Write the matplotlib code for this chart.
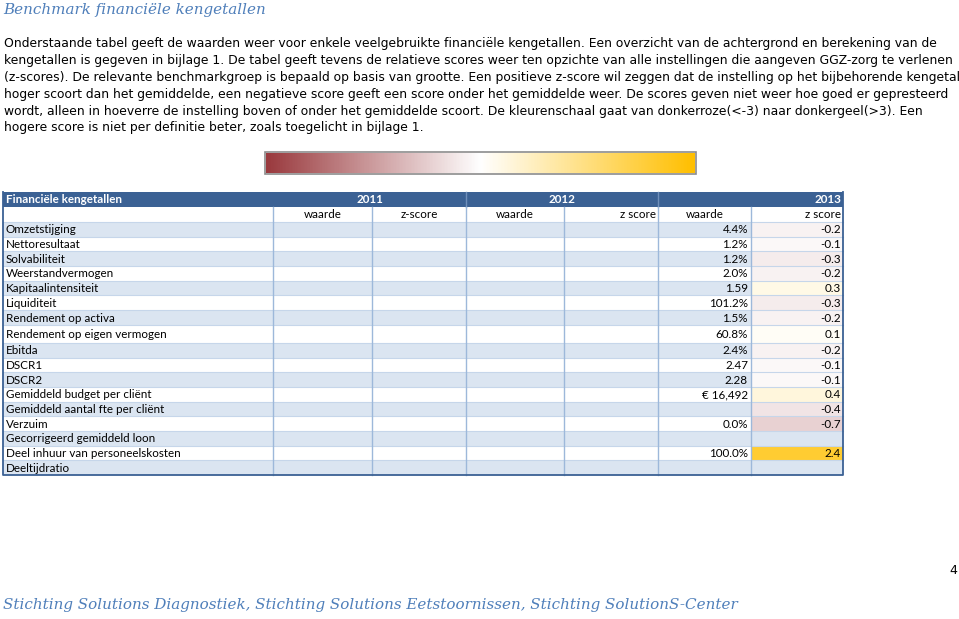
import matplotlib
matplotlib.use("Agg")
import matplotlib.pyplot as plt
import numpy as np
from matplotlib.patches import Rectangle
from matplotlib.colors import LinearSegmentedColormap, Normalize

title = "Benchmark financiële kengetallen"
intro_lines = [
    "Onderstaande tabel geeft de waarden weer voor enkele veelgebruikte financiële kengetallen. Een overzicht van de achtergrond en berekening van de",
    "kengetallen is gegeven in bijlage 1. De tabel geeft tevens de relatieve scores weer ten opzichte van alle instellingen die aangeven GGZ-zorg te verlenen",
    "(z-scores). De relevante benchmarkgroep is bepaald op basis van grootte. Een positieve z-score wil zeggen dat de instelling op het bijbehorende kengetal",
    "hoger scoort dan het gemiddelde, een negatieve score geeft een score onder het gemiddelde weer. De scores geven niet weer hoe goed er gepresteerd",
    "wordt, alleen in hoeverre de instelling boven of onder het gemiddelde scoort. De kleurenschaal gaat van donkerroze(<-3) naar donkergeel(>3). Een",
    "hogere score is niet per definitie beter, zoals toegelicht in bijlage 1.",
]
footer = "Stichting Solutions Diagnostiek, Stichting Solutions Eetstoornissen, Stichting SolutionS-Center"
page_no = "4"

years = ["2011", "2012", "2013"]
sub_headers = ["waarde", "z-score", "waarde", "z score", "waarde", "z score"]
labels = [
    "Omzetstijging", "Nettoresultaat", "Solvabiliteit", "Weerstandvermogen",
    "Kapitaalintensiteit", "Liquiditeit", "Rendement op activa",
    "Rendement op eigen vermogen", "Ebitda", "DSCR1", "DSCR2",
    "Gemiddeld budget per cliënt", "Gemiddeld aantal fte per cliënt", "Verzuim",
    "Gecorrigeerd gemiddeld loon", "Deel inhuur van personeelskosten", "Deeltijdratio",
]
waarde_2013 = ["4.4%", "1.2%", "1.2%", "2.0%", "1.59", "101.2%", "1.5%", "60.8%",
               "2.4%", "2.47", "2.28", "€ 16,492", "", "0.0%", "", "100.0%", ""]
z_2013 = [-0.2, -0.1, -0.3, -0.2, 0.3, -0.3, -0.2, 0.1,
          -0.2, -0.1, -0.1, 0.4, -0.4, -0.7, None, 2.4, None]

# colour scale: dark rose (<-3) -> white -> dark yellow (>3)
cmap = LinearSegmentedColormap.from_list("zscore", ["#9a3a3e", "#ffffff", "#ffbf00"])
norm = Normalize(-3, 3)

fig = plt.figure(figsize=(9.59, 6.19), dpi=100)
ax = fig.add_axes([0, 0, 1, 1])
ax.set_xlim(0, 959)
ax.set_ylim(619, 0)
ax.axis("off")

ax.text(3, 10, title, fontsize=10.9, family="DejaVu Serif", style="italic",
        color="#4f7fba", va="center", ha="left")

body_y0, body_dy = 44, 16.8
for i, line in enumerate(intro_lines):
    ax.text(4, body_y0 + i * body_dy, line, fontsize=8.88, family="DejaVu Sans",
            color="black", va="center", ha="left")

# gradient bar
grad = np.linspace(-3, 3, 400).reshape(1, -1)
ax.imshow(grad, cmap=cmap, norm=norm, extent=(266, 695, 173, 153), aspect="auto")
ax.add_patch(Rectangle((265, 152), 431, 22, fill=False, ec="#8c8c8c", lw=1.2))

# table
col_x = [3, 273, 372, 466, 564, 658, 751, 843]
head_top, head_h, sub_h = 192, 15, 15
row_h = [14.7] * len(labels)
row_h[7] = 18
dark = "#3b6194"
light = "#dbe5f1"
grid = "#9db8da"
tfont = dict(family="Lato", fontsize=8.35)

ax.add_patch(Rectangle((col_x[0], head_top), col_x[-1] - col_x[0], head_h, fc=dark, ec="none"))
ax.text(col_x[0] + 3, head_top + head_h / 2, "Financiële kengetallen", color="white",
        weight="bold", va="center", ha="left", **tfont)
for j, yr in enumerate(years):
    x0, x1 = col_x[1 + 2 * j], col_x[3 + 2 * j]
    if j < 2:
        ax.text((x0 + x1) / 2, head_top + head_h / 2, yr, color="white", weight="bold",
                va="center", ha="center", **tfont)
    else:
        ax.text(x1 - 2, head_top + head_h / 2, yr, color="white", weight="bold",
                va="center", ha="right", **tfont)
    if j > 0:
        ax.plot([x0, x0], [head_top, head_top + head_h], color="#6f8fbb", lw=1)

sy = head_top + head_h
for k, sh in enumerate(sub_headers):
    x0, x1 = col_x[1 + k], col_x[2 + k]
    if sh == "z score":
        ax.text(x1 - 2, sy + sub_h / 2, sh, va="center", ha="right", **tfont)
    else:
        ax.text((x0 + x1) / 2, sy + sub_h / 2, sh, va="center", ha="center", **tfont)

y = sy + sub_h
for i, lab in enumerate(labels):
    h = row_h[i]
    bg = light if i % 2 == 0 else "white"
    ax.add_patch(Rectangle((col_x[0], y), col_x[-1] - col_x[0], h, fc=bg, ec="none"))
    if z_2013[i] is not None:
        ax.add_patch(Rectangle((col_x[6], y), col_x[7] - col_x[6], h,
                               fc=cmap(norm(z_2013[i])), ec="none"))
        ax.text(col_x[7] - 2, y + h / 2 + 0.5, f"{z_2013[i]:.1f}", va="center", ha="right", **tfont)
    ax.text(col_x[0] + 3, y + h / 2 + 0.5, lab, va="center", ha="left", **tfont)
    if waarde_2013[i]:
        ax.text(col_x[6] - 3, y + h / 2 + 0.5, waarde_2013[i], va="center", ha="right", **tfont)
    ax.plot([col_x[0], col_x[-1]], [y, y], color="#c6d6ea", lw=0.8)
    y += h
table_bottom = y

for x in col_x[1:-1]:
    ax.plot([x, x], [sy, table_bottom], color=grid, lw=1)
ax.plot([col_x[0], col_x[0], col_x[-1], col_x[-1]],
        [head_top, table_bottom, table_bottom, head_top], color=dark, lw=1.3)

ax.text(953, 571, page_no, fontsize=9, family="DejaVu Sans", va="center", ha="center")
ax.text(3, 605, footer, fontsize=10.9, family="DejaVu Serif", style="italic",
        color="#4f7fba", va="center", ha="left")

fig.savefig("out.png", dpi=100)
